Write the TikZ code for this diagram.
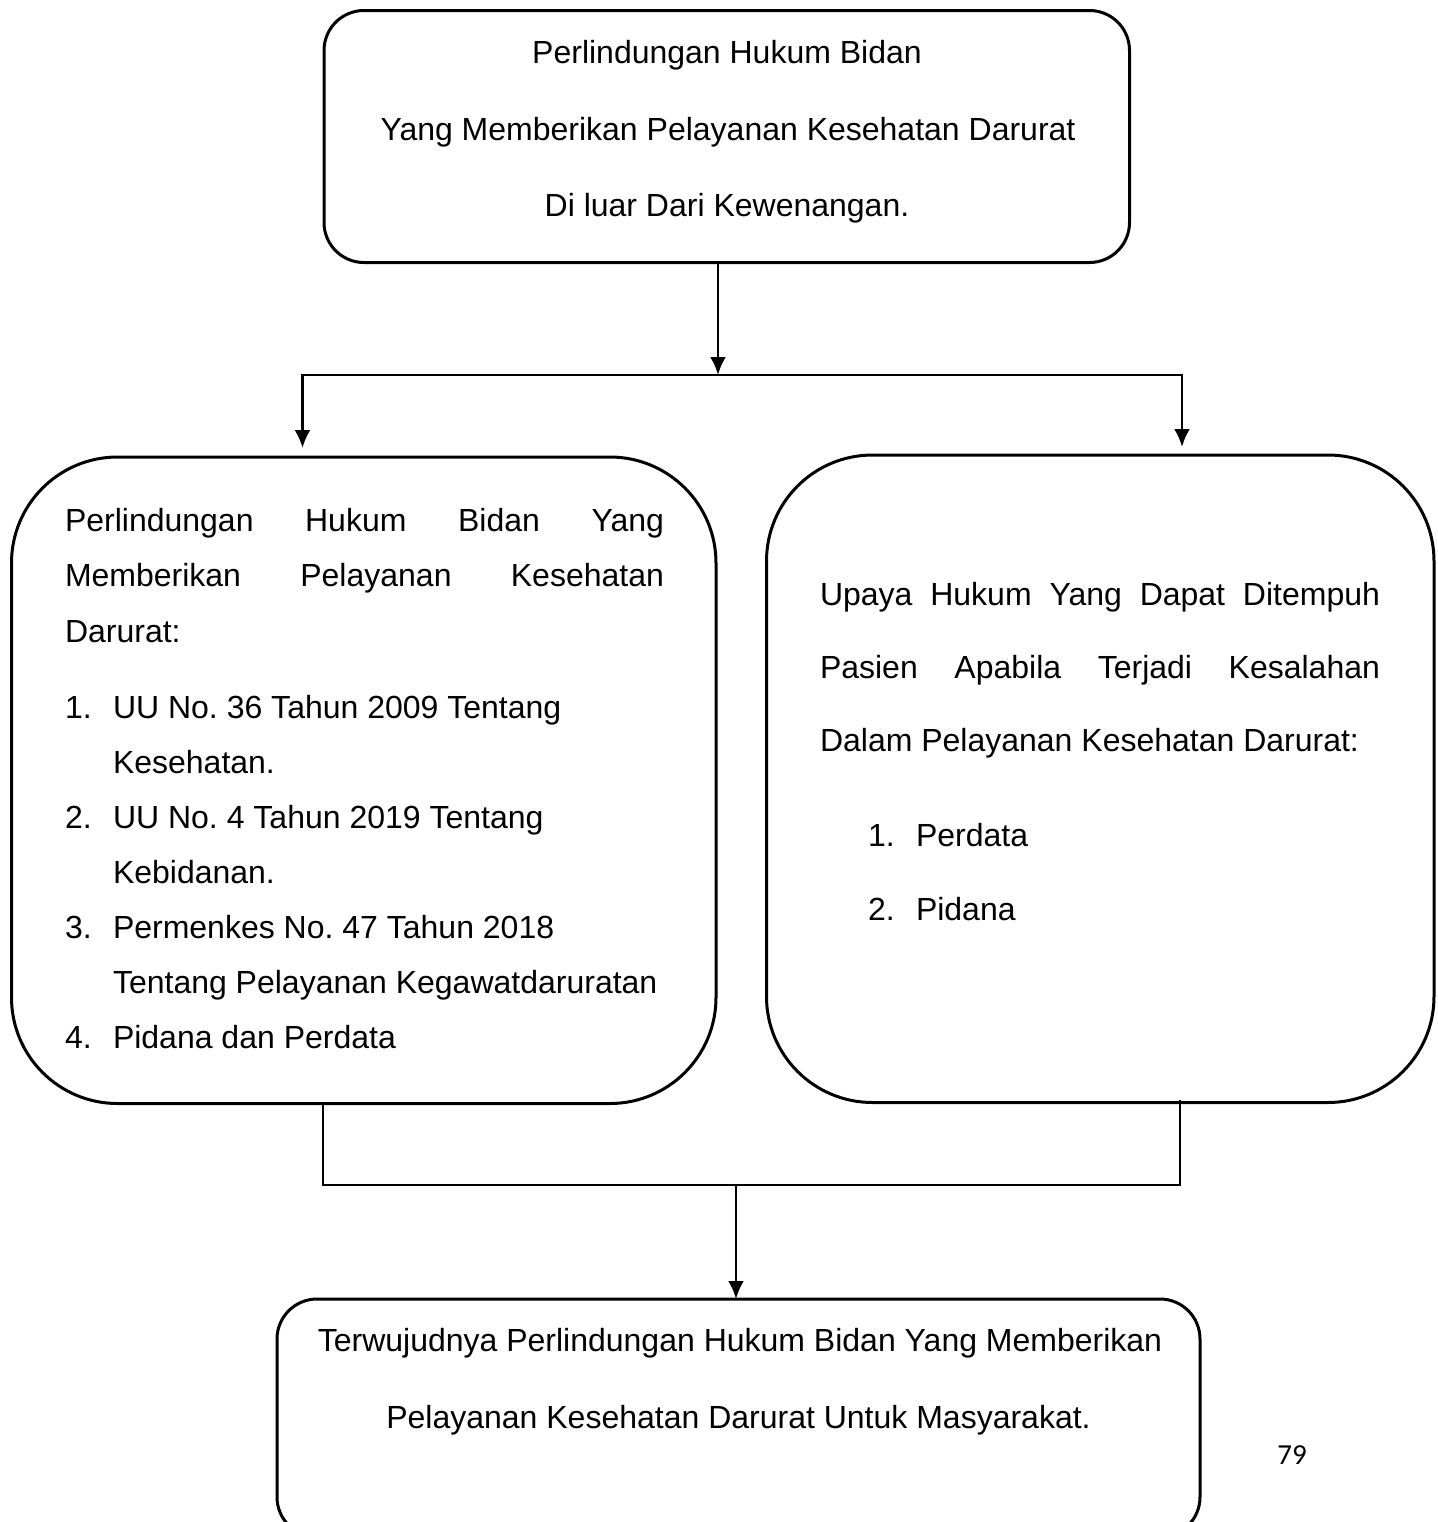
\documentclass[tikz,border=0pt]{standalone}
\usepackage{fontspec}
\setmainfont{Liberation Sans}
\newfontfamily\pgnumfont{Carlito}
\usetikzlibrary{fit,arrows.meta}
\frenchspacing
\begin{document}
\begin{tikzpicture}[x=0.5pt,y=-0.5pt,
  box/.style={draw, line width=1.5pt, rounded corners=20pt, inner sep=0pt, outer sep=0pt},
  bigbox/.style={box, rounded corners=53pt},
  conn/.style={line width=1.4pt},
  tip/.tip={Latex[length=9pt,width=8pt]},
  arr/.style={conn, -tip},
  txt/.style={inner sep=0pt, outer sep=0pt, font=\fontsize{16pt}{19pt}\selectfont},
  lt/.style={txt, anchor=base west},
  ct/.style={txt, anchor=base}]
\fill[white] (0,0) rectangle (1438,1522);
\useasboundingbox (0,0) rectangle (1438,1522);
\clip (0,0) rectangle (1438,1522);

% boxes
\node[box, fit={(324,10.5) (1129.5,262.5)}] (top) {};
\node[bigbox, fit={(11.5,457) (716,1103.5)}] (left) {};
\node[bigbox, fit={(766.5,455) (1434,1102.5)}] (right) {};
\node[box, fit={(277,1299) (1200,1537)}] (bottom) {};

% top text
\node[ct] (t1) at (727,63.5) {Perlindungan Hukum Bidan};
\node[ct] (t2) at (728,140) {Yang Memberikan Pelayanan Kesehatan Darurat};
\node[ct] (t3) at (727,216.5) {Di luar Dari Kewenangan.};

% left text
\node[lt] (l1) at (65,531) {\makebox[299.5pt][s]{Perlindungan Hukum Bidan Yang}};
\node[lt] (l2) at (65,586) {\makebox[299.5pt][s]{Memberikan Pelayanan Kesehatan}};
\node[lt] (l3) at (65,642) {Darurat:};
\node[lt] (n1) at (65,718) {1.};
\node[lt] (i1a) at (113,718) {UU No. 36 Tahun 2009 Tentang};
\node[lt] (i1b) at (113,773) {Kesehatan.};
\node[lt] (n2) at (65,828) {2.};
\node[lt] (i2a) at (113,828) {UU No. 4 Tahun 2019 Tentang};
\node[lt] (i2b) at (113,883) {Kebidanan.};
\node[lt] (n3) at (65,938) {3.};
\node[lt] (i3a) at (113,938) {Permenkes No. 47 Tahun 2018};
\node[lt] (i3b) at (113,993) {Tentang Pelayanan Kegawatdaruratan};
\node[lt] (n4) at (65,1048) {4.};
\node[lt] (i4) at (113,1048) {Pidana dan Perdata};

% right text
\node[lt] (r1) at (820,605) {\makebox[280pt][s]{Upaya Hukum Yang Dapat Ditempuh}};
\node[lt] (r2) at (820,678) {\makebox[280pt][s]{Pasien Apabila Terjadi Kesalahan}};
\node[lt] (r3) at (820,751.5) {Dalam Pelayanan Kesehatan Darurat:};
\node[lt] (rn1) at (868,846.5) {1.};
\node[lt] (ri1) at (916,846.5) {Perdata};
\node[lt] (rn2) at (868,920) {2.};
\node[lt] (ri2) at (916,920) {Pidana};

% bottom text
\node[ct] (b1) at (740,1351.5) {Terwujudnya Perlindungan Hukum Bidan Yang Memberikan};
\node[ct] (b2) at (738.5,1428) {Pelayanan Kesehatan Darurat Untuk Masyarakat.};

% page number
\node[anchor=base west, inner sep=0pt, font=\pgnumfont\fontsize{14.5pt}{17pt}\selectfont] (pg) at (1277,1464) {79};

% connectors
\coordinate (j1) at (718,375);
\coordinate (hl) at (302.5,375);
\coordinate (hr) at (1182,375);
\coordinate (tl) at (302.5,448);
\coordinate (tr) at (1182,447);
\draw[arr] (top.south -| j1) -- (j1);
\draw[conn, tip-tip] (tl) -- (hl) -- (hr) -- (tr);

\coordinate (ml) at (323,1185);
\coordinate (mr) at (1180,1185);
\coordinate (rs) at (1180,1100);
\coordinate (j2) at (736,1185);
\draw[conn] (left.south -| ml) -- (ml) -- (mr) -- (rs);
\draw[arr] (j2) -- (j2 |- bottom.north);
\end{tikzpicture}
\end{document}
